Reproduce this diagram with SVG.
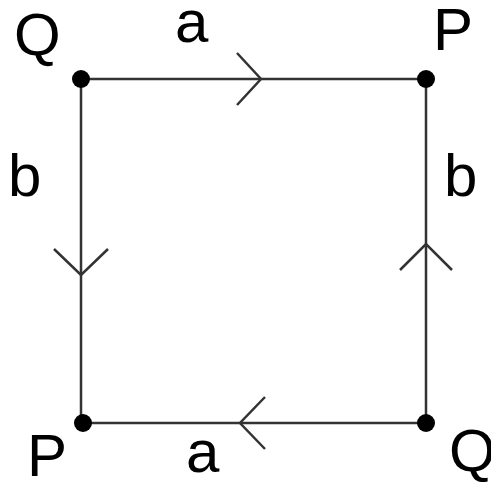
<svg xmlns="http://www.w3.org/2000/svg" width="491" height="482" viewBox="0 0 491 482">
<style>
.edge{stroke:#333;stroke-width:2.5;fill:none}
.chev{stroke:#333;stroke-width:2.5;fill:none;stroke-linejoin:miter}
.dot{fill:#000}
.lbl{font-family:"Liberation Sans",Arial,sans-serif;font-size:60px;fill:#000}
</style>
<rect width="491" height="482" fill="#fff"/>
<g id="connectors">
<line class="edge" x1="81" y1="79" x2="426" y2="79"/>
<polyline class="chev" points="237,53 261,79 237,105"/>
<line class="edge" x1="426" y1="79" x2="426" y2="423"/>
<polyline class="chev" points="400,270 426,244 452,270"/>
<line class="edge" x1="426" y1="423" x2="81" y2="423"/>
<polyline class="chev" points="265,397 240,423 265,449"/>
<line class="edge" x1="81" y1="79" x2="81" y2="423"/>
<polyline class="chev" points="54,249 81,275 108,249"/>
<text class="lbl" x="175" y="42">a</text>
<text class="lbl" x="186" y="472">a</text>
<text class="lbl" x="8" y="196">b</text>
<text class="lbl" x="444" y="196">b</text>
</g>
<g id="node-Q-top"><circle class="dot" cx="81" cy="79" r="9"/><text class="lbl" x="14" y="55">Q</text></g>
<g id="node-P-top"><circle class="dot" cx="426" cy="79" r="9"/><text class="lbl" x="433" y="50">P</text></g>
<g id="node-Q-bottom"><circle class="dot" cx="426" cy="423" r="9"/><text class="lbl" x="449" y="471">Q</text></g>
<g id="node-P-bottom"><circle class="dot" cx="83" cy="423" r="9"/><text class="lbl" x="27" y="476">P</text></g>
</svg>
